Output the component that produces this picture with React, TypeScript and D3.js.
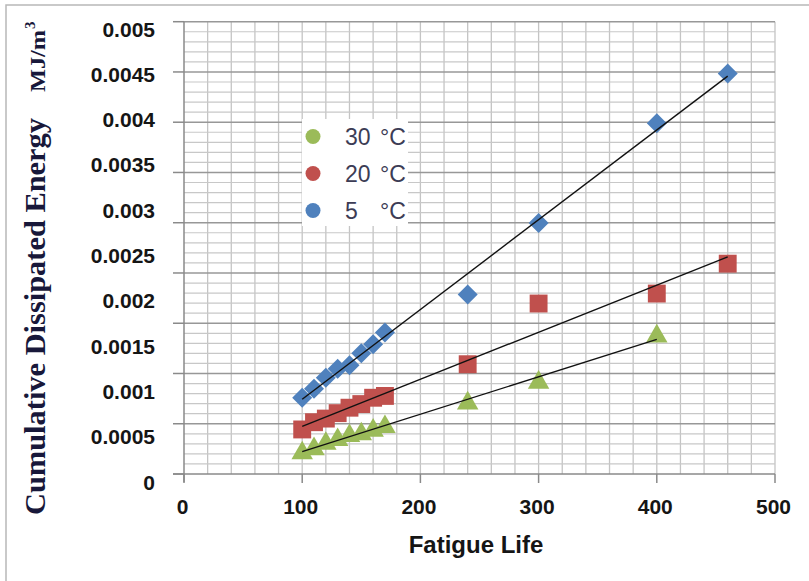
import React, { useEffect, useRef } from "react";
import * as d3 from "d3";

// Fatigue life (x) for each temperature series
const fatigueLife5C = [100, 110, 120, 130, 140, 150, 160, 170, 240, 300, 400, 460];
const fatigueLife20C = [100, 110, 120, 130, 140, 150, 160, 170, 240, 300, 400, 460];
const fatigueLife30C = [100, 110, 120, 130, 140, 150, 160, 170, 240, 300, 400];

// Cumulative dissipated energy, MJ/m3
const energy5C = [0.00093, 0.00103, 0.00115, 0.00125, 0.00129, 0.00142, 0.00152, 0.00165, 0.00207, 0.00286, 0.00396, 0.00451];
const energy20C = [0.00058, 0.00066, 0.0007, 0.00076, 0.00082, 0.00086, 0.00093, 0.00095, 0.0013, 0.00197, 0.00208, 0.00241];
const energy30C = [0.00033, 0.000375, 0.000435, 0.000476, 0.00052, 0.00054, 0.00058, 0.00062, 0.00088, 0.00111, 0.00162];

const legendTemps = ["30", "20", "5"];
const yTickLabels = ["0", "0.0005", "0.001", "0.0015", "0.002", "0.0025", "0.003", "0.0035", "0.004", "0.0045", "0.005"];
const xTickValues = [0, 100, 200, 300, 400, 500];

type Pt = { x: number; y: number };

function zip(xs: number[], ys: number[]): Pt[] {
  return xs.map((x, i) => ({ x, y: ys[i] }));
}

// least squares fit, like the Excel linear trendline
function fitLine(pts: Pt[]) {
  const mx = d3.mean(pts, (d) => d.x) as number;
  const my = d3.mean(pts, (d) => d.y) as number;
  const sxy = d3.sum(pts, (d) => (d.x - mx) * (d.y - my));
  const sxx = d3.sum(pts, (d) => (d.x - mx) * (d.x - mx));
  const slope = sxy / sxx;
  const icpt = my - slope * mx;
  const x0 = d3.min(pts, (d) => d.x) as number;
  const x1 = d3.max(pts, (d) => d.x) as number;
  return [
    { x: x0, y: icpt + slope * x0 },
    { x: x1, y: icpt + slope * x1 },
  ];
}

export default function App() {
  const svgRef = useRef<SVGSVGElement | null>(null);

  useEffect(() => {
    if (!svgRef.current) return;
    const svg = d3.select(svgRef.current);
    svg.selectAll("*").remove();

    const plot = { left: 184, right: 775, top: 21.7, bottom: 474 };

    const x = d3.scaleLinear().domain([0, 500]).range([plot.left, plot.right]);
    const y = d3.scaleLinear().domain([0, 0.005]).range([482, 29]);
    const yLabel = d3.scalePoint<string>().domain(yTickLabels).range([482, 29]);
    // 9 major rows, 5 minor rows each
    const gridY = d3.scaleLinear().domain([0, 45]).range([plot.bottom, plot.top]);

    // outer frame
    svg.append("rect")
      .attr("x", 6).attr("y", 5).attr("width", 900).attr("height", 700)
      .attr("fill", "#fff").attr("stroke", "#b8b8b8").attr("stroke-width", 1.5);

    const grid = svg.append("g");
    d3.range(20, 501, 20).forEach((v) => {
      grid.append("line")
        .attr("x1", x(v)).attr("x2", x(v))
        .attr("y1", plot.top).attr("y2", plot.bottom)
        .attr("stroke", "#c4c4c4").attr("stroke-width", 1.3);
    });
    d3.range(1, 46).forEach((i) => {
      grid.append("line")
        .attr("x1", plot.left).attr("x2", plot.right)
        .attr("y1", gridY(i)).attr("y2", gridY(i))
        .attr("stroke", i % 5 === 0 ? "#989898" : "#c8c8c8")
        .attr("stroke-width", i % 5 === 0 ? 1.5 : 1.2);
    });

    // axes
    const axis = svg.append("g").attr("stroke", "#8a8a8a").attr("stroke-width", 1.5);
    axis.append("line")
      .attr("x1", plot.left).attr("x2", plot.left)
      .attr("y1", plot.top).attr("y2", plot.bottom + 8);
    axis.append("line")
      .attr("x1", plot.left - 11).attr("x2", plot.right)
      .attr("y1", plot.bottom).attr("y2", plot.bottom);
    d3.range(0, 46, 5).forEach((i) => {
      axis.append("line")
        .attr("x1", plot.left - 11).attr("x2", plot.left)
        .attr("y1", gridY(i)).attr("y2", gridY(i));
    });
    xTickValues.forEach((v) => {
      axis.append("line")
        .attr("x1", x(v)).attr("x2", x(v))
        .attr("y1", plot.bottom).attr("y2", plot.bottom + 9);
    });

    // tick labels
    svg.append("g")
      .selectAll("text")
      .data(yTickLabels)
      .join("text")
      .attr("x", 155)
      .attr("y", (d) => yLabel(d) as number)
      .attr("dy", "0.36em")
      .attr("text-anchor", "end")
      .attr("font-family", "'Liberation Sans', Arial, sans-serif")
      .attr("font-weight", "bold")
      .attr("font-size", 21)
      .attr("fill", "#151515")
      .text((d) => d);

    svg.append("g")
      .selectAll("text")
      .data(xTickValues)
      .join("text")
      .attr("x", (d) => x(d) - 1.5)
      .attr("y", 506)
      .attr("dy", "0.36em")
      .attr("text-anchor", "middle")
      .attr("font-family", "'Liberation Sans', Arial, sans-serif")
      .attr("font-weight", "bold")
      .attr("font-size", 21)
      .attr("fill", "#151515")
      .text((d) => String(d));

    svg.append("text")
      .attr("x", 476).attr("y", 544)
      .attr("dy", "0.36em")
      .attr("text-anchor", "middle")
      .attr("font-family", "'Liberation Sans', Arial, sans-serif")
      .attr("font-weight", "bold")
      .attr("font-size", 24)
      .attr("fill", "#151515")
      .text("Fatigue Life");

    // y title
    const yTitle = svg.append("g").attr("transform", "translate(45,0) rotate(-90)")
      .attr("font-family", "'Liberation Serif', 'Times New Roman', serif")
      .attr("font-weight", "bold")
      .attr("fill", "#18183a");
    yTitle.append("text")
      .attr("x", -515).attr("y", 0)
      .attr("font-size", 30)
      .attr("textLength", 397)
      .attr("lengthAdjust", "spacingAndGlyphs")
      .text("Cumulative Dissipated Energy");
    yTitle.append("text")
      .attr("x", -92).attr("y", 0)
      .attr("font-size", 22)
      .attr("textLength", 62)
      .attr("lengthAdjust", "spacingAndGlyphs")
      .text("MJ/m");
    yTitle.append("text")
      .attr("x", -29).attr("y", -10)
      .attr("font-size", 15)
      .text("3");

    const series = [
      { pts: zip(fatigueLife5C, energy5C), color: "#4F81BD", shape: "diamond" },
      { pts: zip(fatigueLife20C, energy20C), color: "#C0504D", shape: "square" },
      { pts: zip(fatigueLife30C, energy30C), color: "#9BBB59", shape: "triangle" },
    ];

    const sym = {
      diamond: d3.symbol(d3.symbolSquare, 200)(),
      square: d3.symbol(d3.symbolSquare, 320)(),
      triangle: d3.symbol(d3.symbolTriangle, 200)(),
    } as Record<string, string | null>;

    series.forEach((s) => {
      svg.append("g")
        .selectAll("path")
        .data(s.pts)
        .join("path")
        .attr("d", sym[s.shape])
        .attr("transform", (d) =>
          `translate(${x(d.x)},${y(d.y)})` + (s.shape === "diamond" ? " rotate(45)" : "") +
          (s.shape === "triangle" ? " translate(0,1)" : ""))
        .attr("fill", s.color);
    });

    const line = d3.line<Pt>().x((d) => x(d.x)).y((d) => y(d.y));
    series.forEach((s) => {
      svg.append("path")
        .datum(fitLine(s.pts))
        .attr("d", line)
        .attr("fill", "none")
        .attr("stroke", "#111")
        .attr("stroke-width", 1.4);
    });

    // legend
    const lg = svg.append("g");
    lg.append("rect")
      .attr("x", 302).attr("y", 119).attr("width", 106).attr("height", 107)
      .attr("fill", "#fff");
    const legendColors = ["#9BBB59", "#C0504D", "#4F81BD"];
    legendTemps.forEach((t, i) => {
      const cy = 136.5 + i * 37;
      lg.append("circle").attr("cx", 313).attr("cy", cy).attr("r", 7.5).attr("fill", legendColors[i]);
      lg.append("text")
        .attr("x", 345).attr("y", cy).attr("dy", "0.36em")
        .attr("font-family", "'Liberation Sans', Arial, sans-serif")
        .attr("font-size", 23)
        .attr("fill", "#3c3c55")
        .text(t);
      lg.append("text")
        .attr("x", 380).attr("y", cy).attr("dy", "0.36em")
        .attr("font-family", "'Liberation Sans', Arial, sans-serif")
        .attr("font-size", 23)
        .attr("fill", "#3c3c55")
        .text("°C");
    });
  }, []);

  return (
    <svg
      ref={svgRef}
      width={809}
      height={581}
      style={{ position: "absolute", left: 0, top: 0, background: "#fff" }}
    />
  );
}
